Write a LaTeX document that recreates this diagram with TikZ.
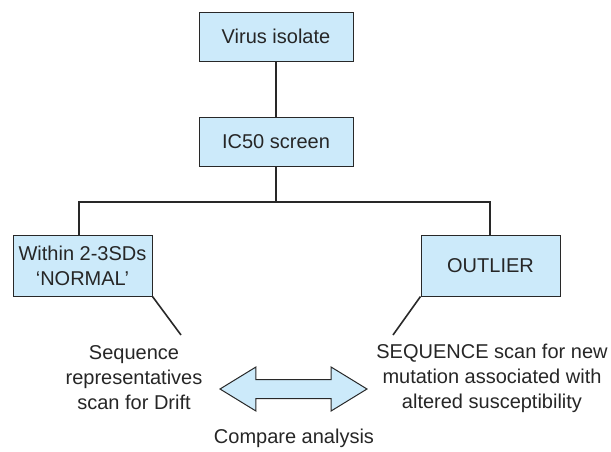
\documentclass[tikz,border=0pt]{standalone}
\usepackage{fontspec}
\setmainfont{Liberation Sans}
\usetikzlibrary{shapes.arrows}
\definecolor{boxblue}{RGB}{204,234,250}
\definecolor{edgegray}{RGB}{40,40,40}
\tikzset{
  stepbox/.style={draw=edgegray, line width=1pt, fill=boxblue, inner sep=2pt, align=center},
  plaintext/.style={align=center, inner sep=0pt},
  link/.style={draw=edgegray, line width=1.6pt}
}
\begin{document}
\begin{tikzpicture}[x=1pt, y=-1pt, font=\fontsize{20}{25}\selectfont, text=black!85]

\useasboundingbox (0,0) rectangle (611,451);

\node[stepbox, minimum width=154pt, minimum height=49pt] (virus) at (276,36.5) {Virus isolate};
\node[stepbox, minimum width=154pt, minimum height=49pt] (ic50) at (276,141.5) {IC50 screen};

\node[stepbox, minimum width=139pt, minimum height=61pt] (normal) at (82.5,265.5) {Within 2-3SDs\\`NORMAL'};
\node[stepbox, minimum width=139pt, minimum height=61pt] (outlier) at (490.5,265.5) {OUTLIER};

\node[plaintext] (drift) at (134,378) {Sequence\\representatives\\scan for Drift};
\node[plaintext] (mutation) at (492,378) {SEQUENCE scan for new\\mutation associated with\\altered susceptibility};

\node[double arrow, draw=edgegray, line width=1pt, fill=boxblue, inner sep=0pt,
      minimum height=147pt, double arrow head extend=12.5pt,
      double arrow tip angle=63] (compare) at (293.5,389) {\rule{0pt}{18pt}};
\node[plaintext] (label) at (294,438) {Compare analysis};

\coordinate (barL) at (79,202);
\coordinate (barR) at (490,202);
\coordinate (driftTip) at (181,335);
\coordinate (mutTip) at (393,335);

\draw[link] (virus) -- (ic50);
\draw[link] (ic50) -- (ic50 |- barL);
\draw[link] (normal.north -| barL) -- (barL) -- (barR) -- (outlier.north -| barR);

\draw[link] (normal.south east) -- (driftTip);
\draw[link] (outlier.south west) -- (mutTip);

\end{tikzpicture}
\end{document}
